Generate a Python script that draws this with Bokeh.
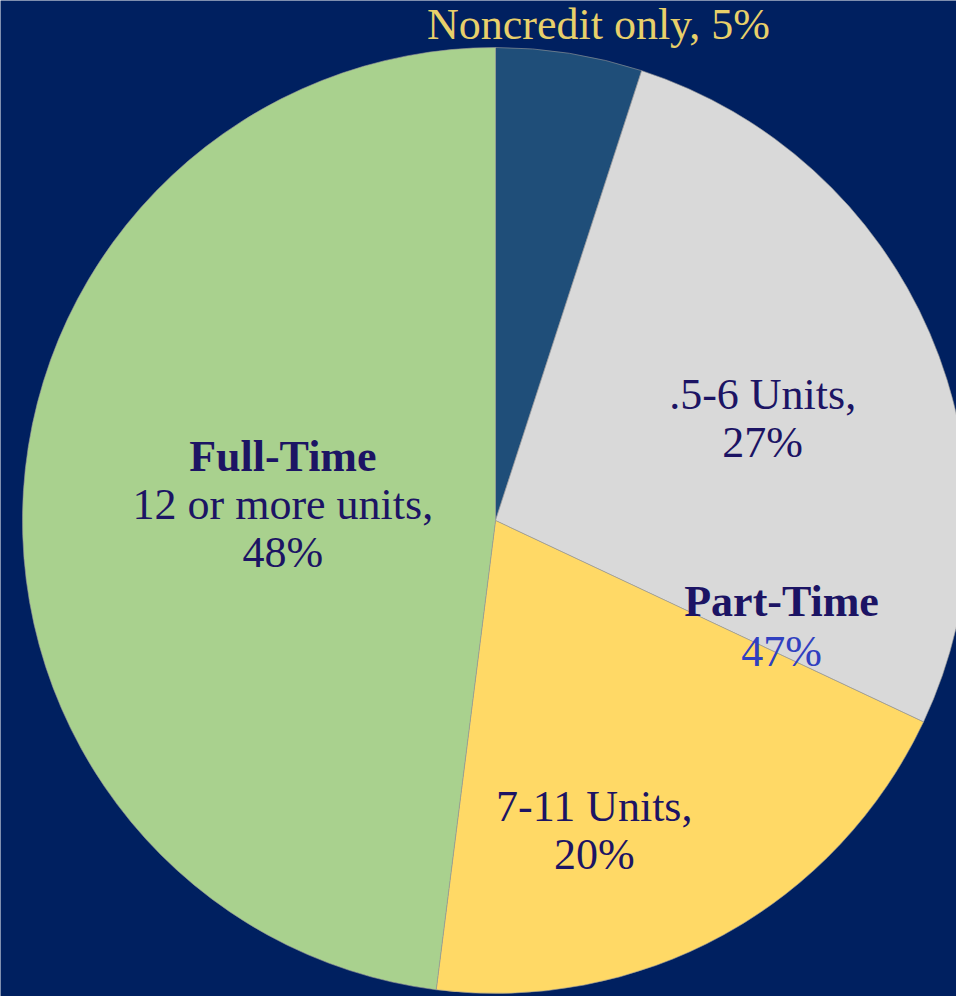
import math
from bokeh.plotting import figure
from bokeh.models import Range1d, ColumnDataSource
from bokeh.core.properties import value
from bokeh.embed import file_html
from bokeh.resources import INLINE

# ---- data ----
categories = ["Noncredit only", ".5-6 Units", "7-11 Units", "Full-Time"]
percents = [5, 27, 20, 48]
colors = ["#1F4E79", "#D9D9D9", "#FFD966", "#A9D18E"]

# label text lines per slice
label_lines = [
    ["Noncredit only, 5%"],
    [".5-6 Units,", "27%"],
    ["7-11 Units,", "20%"],
    ["Full-Time", "12 or more units,", "48%"],
]
label_bold_first = [False, False, False, True]
group_lines = ["Part-Time", "47%"]

# ---- layout (reference pixel space, y measured downward) ----
W, H = 956, 996
OFF = 0
CX, CY, R = 495, 520, 473
LINE = 48
TEXT_DY = -16
# label anchors as (angle clockwise from top in degrees, distance from center)
label_polar = [(12.1, 491), (67.6, 289), (161.9, 318), (282.7, 218)]
group_polar = (108.7, 302)

BG = "#002060"
TXT = "#1C1464"
FONT = "Liberation Serif"

p = figure(width=W, height=H, output_backend="svg", toolbar_location=None,
           x_range=Range1d(OFF, OFF + W), y_range=Range1d(-(OFF + H), -OFF))
p.axis.visible = False
p.grid.visible = False
p.outline_line_color = None
p.background_fill_color = BG
p.border_fill_color = BG
p.min_border = 0

total = float(sum(percents))
starts, ends = [], []
cum = 0.0
for v in percents:
    starts.append(math.pi / 2 - 2 * math.pi * cum / total)
    cum += v
    ends.append(math.pi / 2 - 2 * math.pi * cum / total)

src = ColumnDataSource(dict(x=[CX] * len(percents), y=[-CY] * len(percents),
                            start=starts, end=ends, color=colors, cat=categories))
p.wedge(x="x", y="y", radius=R, start_angle="start", end_angle="end",
        direction="clock", fill_color="color", line_color="#9A9A9A",
        line_width=0.6, source=src)


def anchor(polar):
    ang, dist = polar
    a = math.radians(ang)
    return CX + dist * math.sin(a), CY - dist * math.cos(a)


def put(x, y, txt, color, bold=False):
    p.text(x=[x], y=[-(y + TEXT_DY)], text=[txt], text_align="center",
           text_baseline="alphabetic", text_font=value(FONT),
           text_font_size="44px", text_color=color,
           text_font_style="bold" if bold else "normal")


for i, lines in enumerate(label_lines):
    ax, ay = anchor(label_polar[i])
    col = "#E8D06A" if i == 0 else TXT
    for j, t in enumerate(lines):
        put(ax, ay + j * LINE, t, col, bold=(label_bold_first[i] and j == 0))

gx, gy = anchor(group_polar)
put(gx, gy, group_lines[0], TXT, bold=True)
put(gx, gy + 50, group_lines[1], "#3040C0")

open("out.html", "w").write(file_html(p, INLINE))
